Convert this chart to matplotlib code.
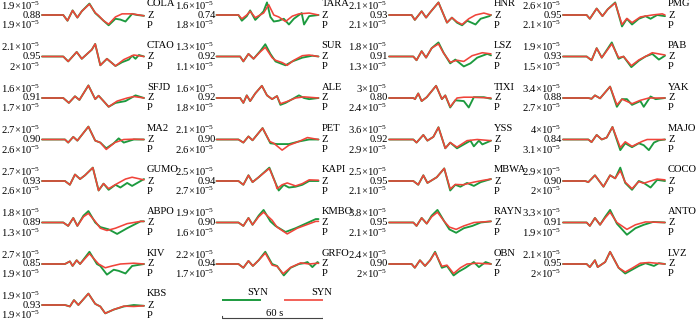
import matplotlib
matplotlib.use("Agg")
import matplotlib.pyplot as plt

plt.rcParams["font.family"] = ["Liberation Serif", "DejaVu Serif"]
plt.rcParams["mathtext.fontset"] = "custom"
plt.rcParams["mathtext.rm"] = "Liberation Serif"
plt.rcParams["mathtext.it"] = "Liberation Serif:italic"

# station order: column 0 (8 rows), then columns 1-3 (7 rows each)
stations = ["COLA", "CTAO", "SFJD", "MA2", "GUMO", "ABPO", "KIV", "KBS",
            "TARA", "SUR", "ALE", "PET", "KAPI", "KMBO", "GRFO",
            "HNR", "LSZ", "TIXI", "YSS", "MBWA", "RAYN", "OBN",
            "PMG", "PAB", "YAK", "MAJO", "COCO", "ANTO", "LVZ"]
corr = ["0.88", "0.95", "0.91", "0.90", "0.93", "0.89", "0.85", "0.93",
        "0.74", "0.92", "0.92", "0.90", "0.94", "0.90", "0.94",
        "0.93", "0.91", "0.80", "0.92", "0.95", "0.95", "0.90",
        "0.95", "0.93", "0.88", "0.84", "0.90", "0.91", "0.95"]
amp_top = ["1.9", "2.1", "1.6", "2.7", "2.7", "1.8", "2.7", "1.9",
           "1.6", "1.3", "1.6", "2.1", "2.5", "1.9", "2.2",
           "2.1", "1.8", "3", "3.6", "2.5", "3.8", "2.4",
           "2.6", "1.9", "3.4", "4", "2.9", "3.3", "2.1"]
amp_bot = ["1.9", "2", "1.7", "2.6", "2.6", "1.3", "1.9", "1.9",
           "1.8", "1.1", "1.8", "2.6", "2.7", "1.6", "1.7",
           "2.1", "1.3", "2.4", "2.9", "2.1", "2.1", "2",
           "2.1", "1.5", "2.7", "3.1", "2", "1.9", "2"]
rows_per_col = [8, 7, 7, 7]

# waveforms: [time s, normalised amplitude]
syn_green = [
    [[0,0],[12.5,0],[15,-0.5],[18,0.4],[20.8,-0.23],[23.4,0.33],[27.9,1.0],[31.3,0.17],[33.3,-0.1],[36.2,-0.5],[39.2,-0.9],[43.2,-0.33],[46.1,-0.4],[49.1,-0.57],[53,0.1],[56,0],[60,-0.07]],
    [[0,0],[12.5,0],[15.4,-0.43],[18,0],[20.4,0.4],[23.4,-0.2],[27.3,0.33],[29.3,0.6],[31.3,1.1],[34.3,-0.77],[38.2,-0.2],[43.2,-0.83],[47.1,-0.5],[51.1,-0.27],[53,0.07],[55,-0.2],[57,0.13],[60,0]],
    [[0,0],[12.5,0],[15.8,-0.43],[19.4,0.15],[22,-0.17],[27.3,1.1],[31.3,-0.1],[33.3,0.2],[36.2,-0.27],[39.2,-0.77],[43.2,-0.43],[49.1,-0.27],[55,0.23],[60,0]],
    [[0,0],[13.5,0],[15.4,-0.27],[18.4,0.23],[20.8,-0.1],[27.3,1.13],[31.3,-0.1],[34.3,-0.27],[37.8,-0.77],[42.2,-0.33],[45.1,0.1],[48.1,-0.27],[54,0],[60,0]],
    [[0,0],[13.5,0],[16.4,-0.33],[19.4,0.57],[22.4,0.17],[25.3,0.5],[29.9,1.17],[33.3,-0.83],[36.2,-0.23],[39.2,-0.77],[43.2,-0.33],[46.1,-0.57],[50.1,-0.17],[53,-0.43],[60,0.17]],
    [[0,0],[12.5,0],[15.4,-0.3],[18.4,0.4],[20.8,-0.3],[24.4,0.6],[27.3,1.0],[31.3,0.0],[34.3,-0.4],[39.2,-0.6],[44.2,-1.0],[50.1,-0.5],[58,0.1],[60,0.1]],
    [[0,0],[13.5,0],[16.4,0.23],[18,-0.17],[20.4,0.33],[22.4,0],[27.9,1.07],[32.3,0],[34.3,-0.17],[38.2,-0.93],[42.2,-0.5],[45.1,-0.6],[49.1,-0.83],[53,-0.17],[60,0]],
    [[0,0],[13.5,0],[16.4,-0.13],[18.8,0.43],[21.4,0],[27.3,1.0],[31.3,0.1],[34.3,-0.13],[37.2,-0.73],[42.2,-0.4],[48.1,-0.13],[54,0],[60,-0.07]],
    [[0,0],[12.9,0],[14.9,-0.5],[17.8,-0.1],[19.8,0.4],[22.8,-0.43],[25.7,0],[27.7,0.33],[29.7,1.1],[31.7,-0.17],[33.7,-0.57],[36.6,-0.5],[39.6,-0.33],[42.6,-0.83],[45.5,-0.33],[50.1,0.17],[51.5,-0.83],[54.5,-0.1],[60,0]],
    [[0,0],[13.9,0],[15.8,-0.43],[18.8,0.23],[21.8,-0.2],[25.7,0.47],[28.7,1.07],[31.7,0.23],[34.7,-0.43],[37.6,-0.6],[40.6,-0.77],[44.6,-0.43],[50.5,-0.1],[56.4,0.07],[60,0]],
    [[0,0],[13.9,0],[15.8,-0.43],[17.8,0.23],[19.8,-0.27],[22.8,0.4],[26.7,1.07],[29.7,0.23],[32.7,-0.1],[35.6,0.17],[37.6,-0.6],[40.6,-0.43],[44.6,-0.1],[48.5,0.23],[51.5,0],[54.5,-0.1],[60,0]],
    [[0,0],[12.9,0],[15.8,-0.27],[18.8,0.27],[21.2,-0.07],[27.1,1.0],[31.7,-0.33],[35.6,-0.4],[42.6,-0.4],[48.5,-0.17],[54.5,0],[60,0]],
    [[0,0],[12.9,0],[15.8,-0.33],[18.8,0.5],[21.2,-0.1],[24.8,0.33],[31.1,1.17],[34.7,-0.17],[36.6,-0.83],[39.6,-0.33],[42.6,-0.57],[46.5,-0.5],[50.5,-0.33],[54.5,0],[60,0]],
    [[0,0],[12.9,0],[15.8,-0.3],[18.8,0.4],[21.2,-0.2],[24.8,0.6],[27.7,1.1],[31.7,0.1],[34.7,-0.3],[40.6,-0.83],[46.5,-0.5],[58.4,0.3],[60,0.3]],
    [[0,0],[12.9,0],[15.8,-0.33],[18.8,0.27],[21.4,-0.17],[24.8,0.33],[28.7,1.07],[32.7,0],[35.6,-0.17],[39.6,-1.0],[43.6,-0.33],[48.5,0],[51.5,0.07],[53.5,0.17],[56.4,-0.27],[59.4,0.17],[60,0.1]],
    [[0,0],[13.3,0],[15.2,-0.43],[19.2,0.33],[21.8,-0.23],[24.2,0.23],[29.1,1.1],[34.1,-0.67],[37,-0.23],[40,-0.67],[43,-0.9],[46,-0.5],[50.9,-0.83],[53.9,-0.33],[59,-0.1],[60,0]],
    [[0,0],[14.3,0],[16.2,-0.33],[19.2,0.47],[21.8,-0.1],[25.1,0.73],[29.1,1.23],[32.1,0.33],[36,-0.6],[39,-0.27],[44,-0.87],[47.9,-0.6],[51.9,-0.1],[57.8,0.23],[60,0.1]],
    [[0,0],[14.3,0],[15.3,-0.1],[17.2,0.4],[19.2,-0.27],[22.2,0.07],[27.7,1.07],[31.1,-0.1],[33.1,0.23],[36,-0.83],[39,-0.2],[44,-0.27],[46.9,-0.83],[49.9,0.07],[55.8,0.07],[60,-0.07]],
    [[0,0],[14.3,0],[16.2,-0.27],[20.2,0.4],[22.6,-0.1],[26.1,0.23],[29.1,1.07],[33.1,-0.77],[36,-0.27],[40,-0.77],[44,-0.43],[47.9,-0.1],[49.9,-0.6],[52.9,-0.1],[54.9,-0.43],[60,-0.1]],
    [[0,0],[14.3,0],[17.2,-0.33],[20.2,0.5],[22.6,-0.17],[28.1,0.33],[32.5,1.1],[36,-0.83],[39,-0.33],[42,-0.5],[45.9,-0.17],[49.9,-0.43],[53.9,-0.1],[60,0.17]],
    [[0,0],[14.3,0],[16.2,-0.3],[19.2,0.4],[22.2,-0.1],[25.1,0.6],[28.5,1.1],[32.5,0.1],[35.5,-0.6],[39.5,-0.9],[44,-0.5],[49,-0.3],[54,0],[60,0.1]],
    [[0,0],[13.3,0],[15.2,-0.33],[18.2,0.33],[21.2,-0.17],[24.2,0.33],[27.1,1.07],[31.1,-0.33],[34.1,-0.17],[38,-1.0],[41,-0.67],[45,-0.33],[49.9,0.17],[52.9,-0.27],[56.8,0.17],[60,0]],
    [[0,0],[13.9,0],[15.8,-0.33],[19.8,0.57],[23.2,-0.1],[26.3,0.5],[30.7,1.1],[34.7,-1.0],[37.6,-0.33],[40.6,-0.83],[44.6,-0.33],[48.5,-0.1],[51.5,-0.33],[55.4,0],[60,-0.1]],
    [[0,0],[13.9,0],[16.8,-0.33],[19.8,0.73],[22.8,-0.1],[28.7,1.23],[32.7,-0.2],[35.6,0],[40.2,-0.93],[44.6,-0.37],[48.5,0],[52.5,0.23],[56.4,-0.27],[60,0.07]],
    [[0,0],[14.9,0],[16.8,-0.07],[18.8,0.23],[21.8,-0.03],[27.7,1.0],[31.7,-0.77],[34.7,-0.1],[37.6,-0.1],[40.6,-0.6],[45.5,-0.27],[47.5,-0.77],[51.5,0.13],[54.5,-0.1],[60,0]],
    [[0,0],[14.9,0],[16.8,-0.23],[19.8,0.4],[22.8,0],[25.7,0.17],[29.1,1.1],[33.7,-0.93],[36.6,-0.33],[40.6,-0.67],[44.6,-0.33],[47.5,-0.5],[50.5,-0.93],[53.5,-0.27],[56.4,-0.07],[60,0]],
    [[0,0],[13,0],[14.9,-0.1],[18.8,0.5],[23.8,-0.5],[27.7,0.5],[30.7,0.23],[33.7,1.17],[36.6,-0.17],[40.6,-0.77],[44.6,0],[47.5,-0.17],[51.5,-0.57],[55.4,0.1],[60,0]],
    [[0,0],[13.9,0],[15.8,-0.3],[18.8,0.4],[21.8,-0.2],[24.8,0.5],[27.7,1.1],[31.7,-0.1],[37.6,-1.07],[42.6,-0.5],[47.5,-0.2],[53,0.05],[60,0]],
    [[0,0],[13.9,0],[15.8,-0.27],[18.8,0.33],[20.4,-0.27],[24.8,0.17],[27.7,1.07],[32.7,-0.33],[36.6,-0.83],[40.6,-0.5],[44.6,-0.17],[48.5,0.07],[53.5,-0.17],[56.4,0.07],[60,0]],
]
syn_red = [
    [[0,0],[12.5,0],[15,-0.5],[18,0.4],[20.8,-0.23],[23.4,0.33],[27.9,0.95],[31.3,0.2],[33.3,-0.05],[36.2,-0.5],[39.2,-0.8],[43.2,-0.17],[47.1,0.1],[53,0.1],[60,-0.07]],
    [[0,0],[12.5,0],[15.4,-0.43],[18,0],[20.4,0.4],[23.4,-0.2],[27.3,0.33],[29.3,0.6],[31.3,1.1],[34.3,-0.77],[38.2,-0.2],[43.2,-0.83],[48.1,-0.27],[54,0.13],[60,0]],
    [[0,0],[12.5,0],[15.8,-0.43],[19.4,0.15],[22,-0.17],[27.3,1.1],[31.3,-0.1],[33.3,0.2],[36.2,-0.27],[39.2,-0.77],[44.2,-0.27],[50.1,0],[54,0.13],[60,0]],
    [[0,0],[13.5,0],[15.4,-0.27],[18.4,0.23],[20.8,-0.1],[27.3,1.13],[31.3,-0.1],[34.3,-0.27],[37.8,-0.87],[42.8,-0.27],[48.1,0],[54,0.03],[60,0]],
    [[0,0],[13.5,0],[16.4,-0.33],[19.4,0.57],[22.4,0.17],[25.3,0.5],[29.9,1.17],[33.3,-0.83],[36.2,-0.23],[39.2,-0.67],[44.2,-0.23],[49.1,0.17],[53,0.33],[60,0.1]],
    [[0,0],[12.5,0],[15.4,-0.3],[18.4,0.4],[20.8,-0.3],[24.4,0.5],[27.3,0.8],[31.3,0.1],[34.3,-0.5],[38.2,-0.7],[43.2,-0.5],[50.1,-0.1],[58,0.1],[60,0.1]],
    [[0,0],[13.5,0],[16.4,0.23],[18,-0.17],[20.4,0.33],[22.4,0],[27.9,0.9],[33.3,0.0],[37.2,-0.33],[41.2,-0.17],[46.1,0],[54,0.07],[60,0]],
    [[0,0],[13.5,0],[16.4,-0.13],[18.8,0.43],[21.4,0],[27.3,1.0],[31.3,0.1],[34.3,-0.13],[37.2,-0.73],[42.2,-0.4],[48.1,-0.1],[54,-0.13],[60,-0.07]],
    [[0,0],[12.9,0],[14.9,-0.33],[17.8,0],[19.8,0.33],[22.8,-0.23],[27.7,0.17],[30.7,0.9],[33.7,0],[36.6,-0.17],[40.6,-0.57],[44.6,-0.1],[48.5,0.1],[54.5,0.17],[60,0]],
    [[0,0],[13.9,0],[15.8,-0.43],[18.8,0.23],[21.8,-0.2],[25.7,0.4],[28.7,0.8],[32.7,-0.1],[34.7,-0.33],[38.6,-0.53],[41.6,-0.77],[45.5,-0.33],[50.5,0.07],[54.5,0.13],[60,0]],
    [[0,0],[13.9,0],[15.8,-0.43],[17.8,0.23],[19.8,-0.27],[22.8,0.4],[26.7,1.07],[29.7,0.23],[32.7,-0.1],[35.6,0.17],[37.6,-0.5],[41.6,-0.3],[46.5,0],[51.5,0.1],[60,0]],
    [[0,0],[12.9,0],[15.8,-0.27],[18.8,0.27],[21.2,-0.07],[27.1,1.0],[31.3,-0.17],[33.7,-0.33],[38.6,-0.93],[42.6,-0.5],[48.5,-0.17],[53.5,0.17],[60,0]],
    [[0,0],[12.9,0],[15.8,-0.33],[18.8,0.5],[21.2,-0.1],[24.8,0.33],[31.1,1.1],[34.7,-0.2],[35.6,-0.67],[38.6,-0.33],[41.6,-0.17],[46.5,-0.43],[50.5,-0.23],[54.5,0.1],[60,0.07]],
    [[0,0],[12.9,0],[15.8,-0.3],[18.8,0.4],[21.2,-0.2],[24.8,0.5],[27.7,0.9],[32.7,0.2],[35.6,-0.4],[41.6,-1.0],[47.5,-0.5],[58.4,0.1],[60,0.1]],
    [[0,0],[12.9,0],[15.8,-0.33],[18.8,0.27],[21.4,-0.17],[24.8,0.33],[28.7,0.95],[32.7,-0.1],[35.6,-0.2],[39.2,-0.85],[43.6,-0.3],[49.5,0.1],[54.5,0],[59.4,0.07],[60,0.05]],
    [[0,0],[13.3,0],[15.2,-0.43],[19.2,0.33],[21.8,-0.23],[24.2,0.23],[29.1,1.1],[34.1,-0.67],[37,-0.23],[40,-0.6],[43,-0.83],[46.9,-0.33],[50.9,0],[55.8,0.17],[60,0]],
    [[0,0],[14.3,0],[16.2,-0.33],[19.2,0.47],[21.8,-0.1],[25.1,0.73],[29.1,1.1],[32.1,0.3],[36,-0.5],[40,-0.33],[44,-0.43],[48.9,0.07],[54.9,0.33],[60,0.23]],
    [[0,0],[14.3,0],[15.3,-0.1],[17.2,0.4],[19.2,-0.27],[22.2,0.07],[27.7,1.07],[31.1,-0.1],[33.1,0.23],[36,-0.77],[40,0],[44,0.07],[49.9,0.07],[60,0]],
    [[0,0],[14.3,0],[16.2,-0.27],[20.2,0.4],[22.6,-0.1],[26.1,0.23],[29.1,1.07],[33.1,-0.77],[36,-0.27],[40,-0.67],[45.9,-0.1],[51.9,0],[60,-0.1]],
    [[0,0],[14.3,0],[17.2,-0.33],[20.2,0.5],[22.6,-0.17],[28.1,0.33],[32.5,1.1],[36,-0.7],[39,-0.3],[43.6,-0.33],[49.9,-0.1],[55.8,0.07],[60,0.17]],
    [[0,0],[14.3,0],[16.2,-0.3],[19.2,0.4],[22.2,-0.1],[25.1,0.5],[28.5,0.9],[32.5,0.1],[35.5,-0.4],[39.5,-0.6],[44,-0.3],[50,0],[60,0.1]],
    [[0,0],[13.3,0],[15.2,-0.33],[18.2,0.33],[21.2,-0.17],[24.2,0.33],[27.1,1.0],[31.1,-0.2],[34.1,-0.1],[38,-0.83],[42,-0.33],[45.9,0],[51.9,0.07],[60,0]],
    [[0,0],[13.9,0],[15.8,-0.33],[19.8,0.57],[23.2,-0.1],[26.3,0.5],[30.7,1.05],[34.7,-0.83],[37.6,-0.3],[40.6,-0.67],[45.5,-0.17],[52.5,0],[58.4,0.1],[60,0]],
    [[0,0],[13.9,0],[16.8,-0.33],[19.8,0.73],[22.8,-0.1],[28.7,1.1],[32.7,-0.1],[35.6,0],[40.2,-0.8],[44.6,-0.3],[48.5,0],[52.5,0.33],[60,0.13]],
    [[0,0],[14.9,0],[16.8,-0.07],[18.8,0.23],[21.8,-0.03],[27.7,1.0],[31.7,-0.6],[34.7,-0.1],[40.6,-0.5],[45.5,-0.2],[50.5,0],[60,0]],
    [[0,0],[14.9,0],[16.8,-0.23],[19.8,0.4],[22.8,0],[25.7,0.17],[29.1,1.1],[33.7,-0.7],[36.6,-0.2],[40.6,-0.6],[46.5,-0.17],[49.5,0],[60,0]],
    [[0,0],[13,0],[14.9,-0.1],[18.8,0.5],[23.8,-0.5],[27.7,0.5],[30.7,0.23],[33.7,0.9],[36.6,-0.1],[40.6,-0.67],[44.6,-0.05],[47.5,-0.2],[51.5,0],[55.4,0.17],[60,0.1]],
    [[0,0],[13.9,0],[15.8,-0.3],[18.8,0.4],[21.8,-0.2],[24.8,0.4],[27.7,0.9],[31.7,0],[37.6,-0.6],[42.6,-0.2],[48.5,0.05],[60,0]],
    [[0,0],[13.9,0],[15.8,-0.27],[18.8,0.33],[20.4,-0.27],[24.8,0.17],[27.7,1.07],[32.7,-0.33],[36.6,-0.7],[40.6,-0.37],[45.5,0.07],[50.5,0.13],[60,0]],
]

GREEN = "#1c9a3e"
RED = "#f0443a"
W, H = 700, 320
col_x = [42, 216.5, 389, 563]
row_y = [15, 56.5, 98, 139.5, 181, 222.5, 264, 305]
trace_w = 102
half_h = 12


def pct(v):
    return v + "\u00d710$^{-5}$"


fig = plt.figure(figsize=(7, 3.2), dpi=100)
fs = 7.6
k = 0
for c, nrow in enumerate(rows_per_col):
    for r in range(nrow):
        yb = row_y[r]
        ax = fig.add_axes([col_x[c] / W, (H - yb - half_h) / H,
                           trace_w / W, 2 * half_h / H])
        ax.set_xlim(0, 60)
        ax.set_ylim(-1.05, 1.05)
        ax.axis("off")
        g = syn_green[k]
        rr = syn_red[k]
        ax.plot([p[0] for p in g], [p[1] for p in g], color=GREEN, lw=1.35,
                solid_joinstyle="round", solid_capstyle="round", clip_on=False)
        ax.plot([p[0] for p in rr], [p[1] for p in rr], color=RED, lw=1.15,
                solid_joinstyle="round", solid_capstyle="round", clip_on=False)
        # left labels
        ax.text(-0.005, 0.5, corr[k], transform=ax.transAxes, ha="right",
                va="center", fontsize=fs)
        ax.text(-0.02, 0.5 + 9.5 / 24, pct(amp_top[k]), transform=ax.transAxes,
                ha="right", va="center", fontsize=fs)
        ax.text(-0.02, 0.5 - 10 / 24, pct(amp_bot[k]), transform=ax.transAxes,
                ha="right", va="center", fontsize=fs)
        # right labels
        ax.text(1.03, 0.5 + 11 / 24, stations[k], transform=ax.transAxes,
                ha="left", va="center", fontsize=fs)
        ax.text(1.03, 0.5, "Z", transform=ax.transAxes, ha="left",
                va="center", fontsize=fs)
        ax.text(1.03, 0.5 - 10 / 24, "P", transform=ax.transAxes, ha="left",
                va="center", fontsize=fs)
        k += 1

# legend and 60 s scale bar
sax = fig.add_axes([222 / W, 0.0, 101 / W, 30 / H])
sax.set_xlim(0, 60)
sax.set_ylim(0, 30)
sax.axis("off")
sax.plot([-0.6, 22.6], [20, 20], color=GREEN, lw=1.4)
sax.plot([37.4, 60], [20, 20], color=RED, lw=1.4, alpha=0.85)
sax.text(21, 23, "SYN", ha="center", va="bottom", fontsize=fs)
sax.text(59, 23, "SYN", ha="center", va="bottom", fontsize=fs)
sax.plot([0, 0, 60, 60], [4.5, 2, 2, 4.5], color="#444444", lw=0.8)
sax.text(31, 7, "60 s", ha="center", va="center", fontsize=fs)

fig.savefig("out.png", dpi=100)
